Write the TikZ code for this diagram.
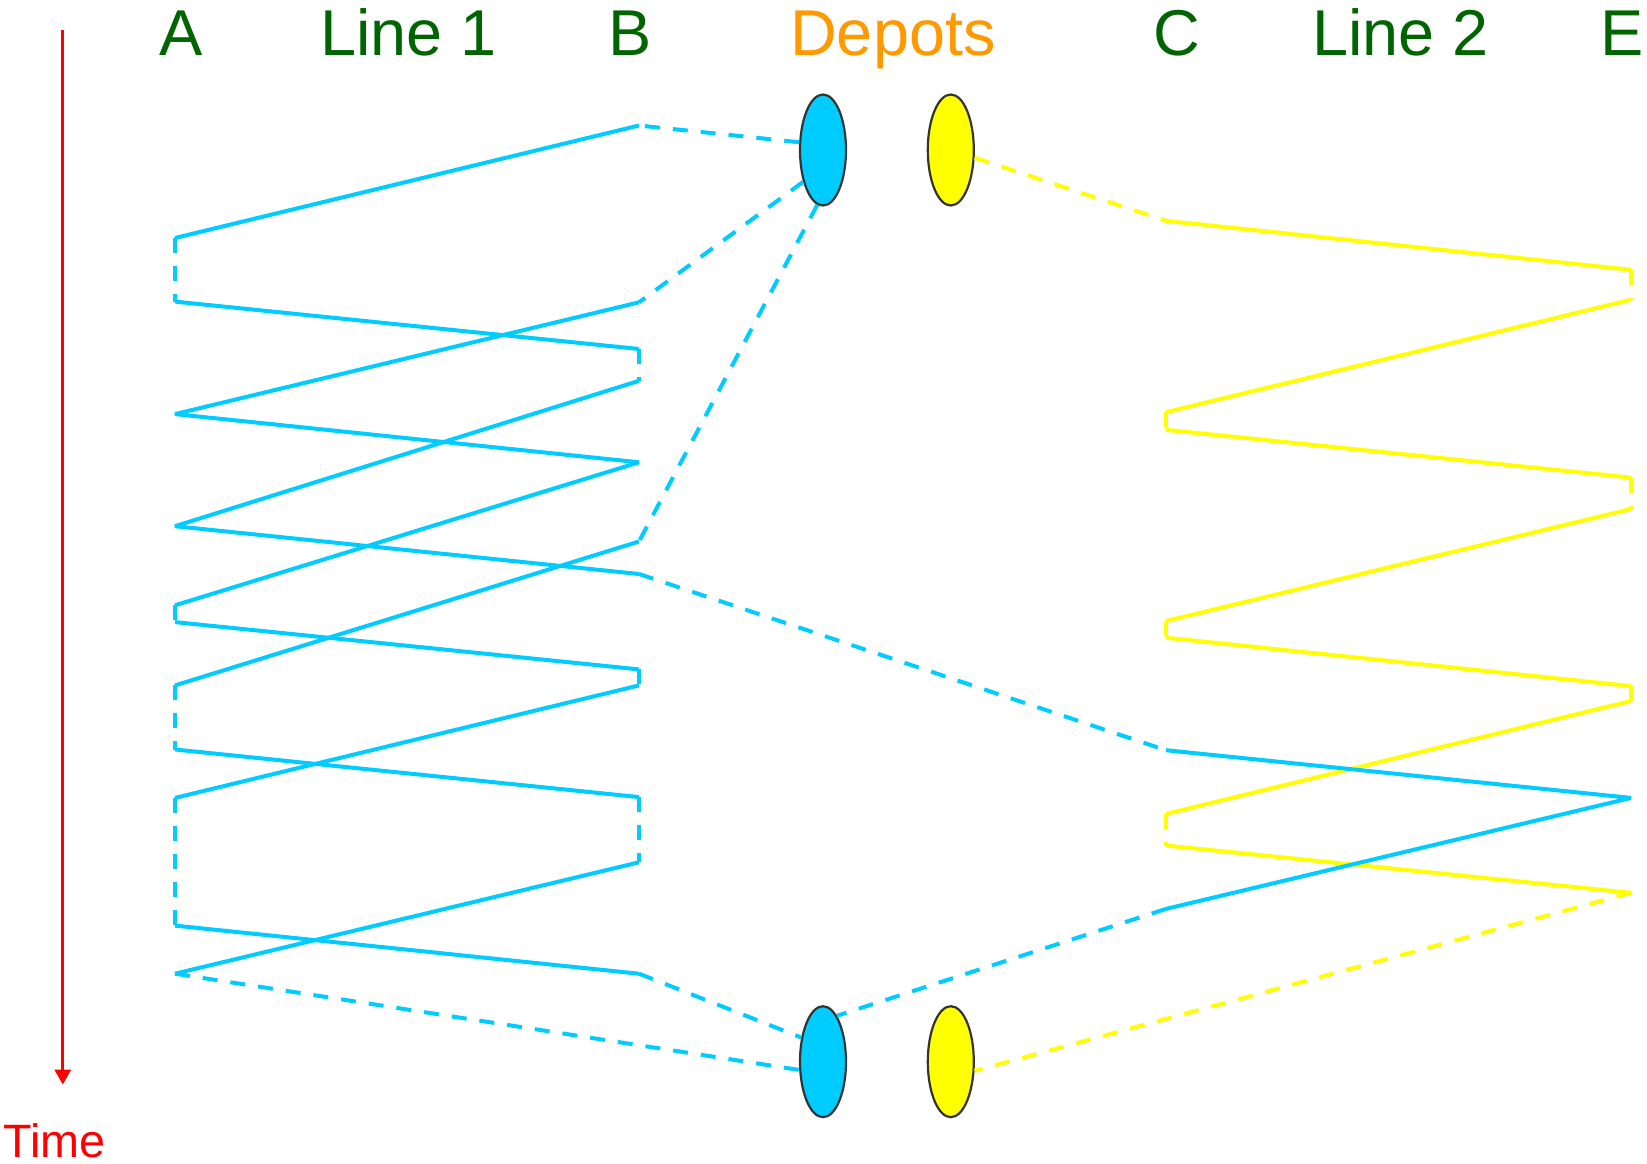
\documentclass[tikz,border=0pt]{standalone}
\usepackage{fontspec}
\setmainfont{Liberation Sans}
\usetikzlibrary{shapes.geometric,arrows.meta}
\definecolor{lblue}{HTML}{00CCFF}
\definecolor{lyellow}{HTML}{FFFF00}
\definecolor{lgreen}{HTML}{006400}
\definecolor{lorange}{HTML}{FF9900}
\definecolor{lred}{HTML}{FF0000}
\definecolor{lgray}{HTML}{333333}
\begin{document}
\begin{tikzpicture}[x=1pt,y=-1pt,
  bl/.style={draw=lblue,line width=4pt,line join=bevel},
  yl/.style={draw=lyellow,line width=4pt,line join=bevel},
  dsh/.style={dash pattern=on 15pt off 13pt},
  depot/.style={ellipse,draw=lgray,line width=2.2pt,minimum width=46pt,minimum height=111pt,inner sep=0pt},
  lab/.style={anchor=base west,inner sep=0pt,text=lgreen,font=\fontsize{64.8pt}{70pt}\selectfont}]
\useasboundingbox (0,0) rectangle (1647,1164);

% labels
\node[lab] (lA) at (159.5,56) {A};
\node[lab] (lL1) at (320.3,56) {Line 1};
\node[lab] (lB) at (608,56) {B};
\node[lab,text=lorange] (lD) at (790,56) {Depots};
\node[lab] (lC) at (1153,56) {C};
\node[lab] (lL2) at (1312,56) {Line 2};
\node[lab] (lE) at (1600,56) {E};

% time arrow
\coordinate (t0) at (62.8,29.9);
\coordinate (t1) at (62.8,1084.6);
\draw[lred,line width=3pt,-{Triangle[width=16pt,length=15pt]}] (t0) -- (t1);
\node[anchor=base west,inner sep=0pt,text=lred,font=\fontsize{46.8pt}{50pt}\selectfont] (time) at (3,1157) {Time};

% depots
\node[depot,fill=lblue] (d1) at (823,150) {};
\node[depot,fill=lyellow] (d2) at (950.8,150) {};
\node[depot,fill=lblue] (d3) at (823,1061.7) {};
\node[depot,fill=lyellow] (d4) at (950.8,1061.7) {};

% path 1 points
\coordinate (p1a) at (639,125.5);
\coordinate (p1b) at (175,238);
\coordinate (p1c) at (175,301.6);
\coordinate (p1d) at (639,349);
\coordinate (p1e) at (639,380.8);
\coordinate (p1f) at (175,526.2);
\coordinate (p1g) at (639,574);
\coordinate (p1h) at (1166,750.2);
\coordinate (p1i) at (1631,797.9);
\coordinate (p1j) at (1166,908.9);
% path 2 points
\coordinate (p2a) at (639,302.3);
\coordinate (p2b) at (175,414.1);
\coordinate (p2c) at (639,462.3);
\coordinate (p2d) at (175,605.3);
\coordinate (p2e) at (175,622.1);
\coordinate (p2f) at (639,669.4);
\coordinate (p2g) at (639,685.4);
\coordinate (p2h) at (175,797.9);
\coordinate (p2i) at (175,925.6);
\coordinate (p2j) at (639,973.7);
% path 3 points
\coordinate (p3a) at (639,541.5);
\coordinate (p3b) at (175,685.4);
\coordinate (p3c) at (175,749.5);
\coordinate (p3d) at (639,797.1);
\coordinate (p3e) at (639,862.3);
\coordinate (p3f) at (175,973.7);
% yellow points
\coordinate (y1) at (1166,220.8);
\coordinate (y2) at (1631,269.8);
\coordinate (y3) at (1631,299.7);
\coordinate (y4) at (1166,412.2);
\coordinate (y5) at (1166,429.8);
\coordinate (y6) at (1631,477.6);
\coordinate (y7) at (1631,509);
\coordinate (y8) at (1166,621);
\coordinate (y9) at (1166,637.7);
\coordinate (y10) at (1631,686.1);
\coordinate (y11) at (1631,701);
\coordinate (y12) at (1166,813.9);
\coordinate (y13) at (1166,845.5);
\coordinate (y14) at (1631,892.8);

% yellow line
\draw[yl,dsh] (d2.342) -- (y1);
\draw[yl] (y1) -- (y2);
\draw[yl,dsh] (y2) -- (y3);
\draw[yl] (y3) -- (y4);
\draw[yl,dsh] (y4) -- (y5);
\draw[yl] (y5) -- (y6);
\draw[yl,dsh] (y6) -- (y7);
\draw[yl] (y7) -- (y8);
\draw[yl,dsh] (y8) -- (y9);
\draw[yl] (y9) -- (y10);
\draw[yl,dsh] (y10) -- (y11);
\draw[yl] (y11) -- (y12);
\draw[yl,dsh] (y12) -- (y13);
\draw[yl] (y13) -- (y14);
\draw[yl,dsh] (y14) -- (d4.339);

% blue path 1
\draw[bl,dsh] (d1.162) -- (p1a);
\draw[bl] (p1a) -- (p1b);
\draw[bl,dsh] (p1b) -- (p1c);
\draw[bl] (p1c) -- (p1d);
\draw[bl,dsh] (p1d) -- (p1e);
\draw[bl] (p1e) -- (p1f) -- (p1g);
\draw[bl,dsh] (p1g) -- (p1h);
\draw[bl] (p1h) -- (p1i) -- (p1j);
\draw[bl,dsh] (p1j) -- (d3.73);

% blue path 2
\draw[bl,dsh] (d1.238) -- (p2a);
\draw[bl] (p2a) -- (p2b) -- (p2c) -- (p2d);
\draw[bl,dsh] (p2d) -- (p2e);
\draw[bl] (p2e) -- (p2f);
\draw[bl,dsh] (p2f) -- (p2g);
\draw[bl] (p2g) -- (p2h);
\draw[bl,dsh] (p2h) -- (p2i);
\draw[bl] (p2i) -- (p2j);
\draw[bl,dsh] (p2j) -- (d3.132);

% blue path 3
\draw[bl,dsh] (d1.264) -- (p3a);
\draw[bl] (p3a) -- (p3b);
\draw[bl,dsh] (p3b) -- (p3c);
\draw[bl] (p3c) -- (p3d);
\draw[bl,dsh] (p3d) -- (p3e);
\draw[bl] (p3e) -- (p3f);
\draw[bl,dsh] (p3f) -- (d3.199);

\end{tikzpicture}
\end{document}
